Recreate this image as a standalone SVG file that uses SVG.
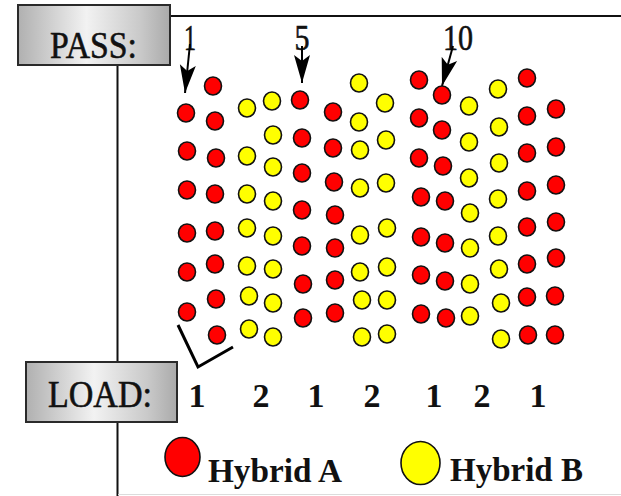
<svg xmlns="http://www.w3.org/2000/svg" xmlns:xlink="http://www.w3.org/1999/xlink" width="621" height="496" viewBox="0 0 621 496">
<style>
.lbl{font-family:"Liberation Serif","Times New Roman",serif;fill:#111}
.heavy{stroke:#111;stroke-width:0.6}
.box{fill:url(#metal);stroke:#2a2a2a;stroke-width:2}
.frame{stroke:#111;stroke-width:2;fill:none}
.ln{stroke:#000;stroke-width:2;fill:none}
.red{fill:#ff0000;stroke:#111;stroke-width:1.6}
.yel{fill:#ffff00;stroke:#111;stroke-width:1.6}
</style>
<defs>
<linearGradient id="metal" x1="0" y1="0" x2="1" y2="0">
<stop offset="0" stop-color="#b0b0b0"/>
<stop offset="0.45" stop-color="#f2f2f2"/>
<stop offset="0.8" stop-color="#cacaca"/>
<stop offset="1" stop-color="#aaaaaa"/>
</linearGradient>
<ellipse id="rd" class="red" cx="0" cy="0" rx="8.5" ry="9"/>
<ellipse id="yd" class="yel" cx="0" cy="0" rx="8.5" ry="9"/>
<marker id="ah" markerUnits="userSpaceOnUse" viewBox="0 -9 28 18" refX="28" refY="0" markerWidth="28" markerHeight="18" orient="auto">
<path d="M0,-8 L28,0 L0,8 L6,0 z" fill="#000"/>
</marker>
</defs>
<rect width="621" height="496" fill="#fff"/>
<g id="frame">
<line class="frame" x1="170" y1="16" x2="621" y2="16"/>
<line class="frame" x1="117.5" y1="65" x2="117.5" y2="496"/>
<line x1="118" y1="494.5" x2="621" y2="494.5" stroke="#dcdcdc" stroke-width="1"/>
</g>
<g id="pass-label">
<rect class="box" x="18" y="5" width="152" height="60"/>
<text class="lbl heavy" x="50" y="58" font-size="37" textLength="87" lengthAdjust="spacingAndGlyphs">PASS:</text>
</g>
<g id="load-label">
<rect class="box" x="26" y="362" width="151" height="60"/>
<text class="lbl heavy" x="48" y="407" font-size="37" textLength="104" lengthAdjust="spacingAndGlyphs">LOAD:</text>
</g>
<g id="pass-numbers" class="lbl heavy" font-size="35">
<text x="190" y="50" text-anchor="middle" textLength="12" lengthAdjust="spacingAndGlyphs">1</text>
<text x="302" y="50" text-anchor="middle" textLength="15" lengthAdjust="spacingAndGlyphs">5</text>
<text x="458" y="50" text-anchor="middle" textLength="30" lengthAdjust="spacingAndGlyphs">10</text>
</g>
<g id="connectors">
<line class="ln" x1="190" y1="44" x2="185" y2="93" marker-end="url(#ah)"/>
<line class="ln" x1="302" y1="46" x2="302" y2="83" marker-end="url(#ah)"/>
<line class="ln" x1="453" y1="46" x2="442" y2="86" marker-end="url(#ah)"/>
<polyline id="bracket" points="178,325 198,367 233,347" stroke="#000" stroke-width="3" fill="none"/>
</g>
<g id="col1">
<use href="#rd" x="186" y="113"/><use href="#rd" x="187" y="151"/><use href="#rd" x="187" y="190"/><use href="#rd" x="187" y="233"/><use href="#rd" x="187" y="272"/><use href="#rd" x="187" y="312"/>
</g>
<g id="col2">
<use href="#rd" x="213" y="86"/><use href="#rd" x="215" y="121"/><use href="#rd" x="216" y="158"/><use href="#rd" x="215" y="194"/><use href="#rd" x="215" y="231"/><use href="#rd" x="215" y="264"/><use href="#rd" x="216" y="299"/><use href="#rd" x="217" y="335"/>
</g>
<g id="col3">
<use href="#yd" x="247" y="108"/><use href="#yd" x="247" y="156"/><use href="#yd" x="247" y="194"/><use href="#yd" x="247" y="228"/><use href="#yd" x="247" y="266"/><use href="#yd" x="249" y="296"/><use href="#yd" x="249" y="329"/>
</g>
<g id="col4">
<use href="#yd" x="272" y="101"/><use href="#yd" x="273" y="135"/><use href="#yd" x="273" y="167"/><use href="#yd" x="273" y="201"/><use href="#yd" x="273" y="236"/><use href="#yd" x="273" y="269"/><use href="#yd" x="273" y="303"/><use href="#yd" x="273" y="337"/>
</g>
<g id="col5">
<use href="#rd" x="300" y="100"/><use href="#rd" x="302" y="138"/><use href="#rd" x="302" y="173"/><use href="#rd" x="302" y="210"/><use href="#rd" x="302" y="246"/><use href="#rd" x="303" y="284"/><use href="#rd" x="303" y="318"/>
</g>
<g id="col6">
<use href="#rd" x="333" y="112"/><use href="#rd" x="333" y="148"/><use href="#rd" x="334" y="182"/><use href="#rd" x="335" y="215"/><use href="#rd" x="335" y="248"/><use href="#rd" x="335" y="280"/><use href="#rd" x="335" y="313"/>
</g>
<g id="col7">
<use href="#yd" x="359" y="83"/><use href="#yd" x="359" y="122"/><use href="#yd" x="360" y="150"/><use href="#yd" x="360" y="188"/><use href="#yd" x="360" y="235"/><use href="#yd" x="360" y="272"/><use href="#yd" x="362" y="300"/><use href="#yd" x="362" y="337"/>
</g>
<g id="col8">
<use href="#yd" x="385" y="103"/><use href="#yd" x="386" y="140"/><use href="#yd" x="386" y="183"/><use href="#yd" x="387" y="228"/><use href="#yd" x="387" y="267"/><use href="#yd" x="387" y="300"/><use href="#yd" x="387" y="334"/>
</g>
<g id="col9">
<use href="#rd" x="419" y="80"/><use href="#rd" x="419" y="118"/><use href="#rd" x="419" y="158"/><use href="#rd" x="421" y="197"/><use href="#rd" x="421" y="237"/><use href="#rd" x="421" y="275"/><use href="#rd" x="421" y="314"/>
</g>
<g id="col10">
<use href="#rd" x="442" y="95"/><use href="#rd" x="442" y="130"/><use href="#rd" x="443" y="166"/><use href="#rd" x="445" y="201"/><use href="#rd" x="445" y="243"/><use href="#rd" x="445" y="281"/><use href="#rd" x="446" y="318"/>
</g>
<g id="col11">
<use href="#yd" x="469" y="106"/><use href="#yd" x="469" y="142"/><use href="#yd" x="469" y="178"/><use href="#yd" x="470" y="213"/><use href="#yd" x="470" y="248"/><use href="#yd" x="470" y="284"/><use href="#yd" x="470" y="316"/>
</g>
<g id="col12">
<use href="#yd" x="498" y="89"/><use href="#yd" x="499" y="127"/><use href="#yd" x="499" y="163"/><use href="#yd" x="498" y="199"/><use href="#yd" x="498" y="236"/><use href="#yd" x="499" y="269"/><use href="#yd" x="501" y="303"/><use href="#yd" x="501" y="339"/>
</g>
<g id="col13">
<use href="#rd" x="527" y="78"/><use href="#rd" x="527" y="116"/><use href="#rd" x="527" y="153"/><use href="#rd" x="527" y="191"/><use href="#rd" x="527" y="227"/><use href="#rd" x="527" y="264"/><use href="#rd" x="527" y="297"/><use href="#rd" x="528" y="335"/>
</g>
<g id="col14">
<use href="#rd" x="556" y="109"/><use href="#rd" x="556" y="147"/><use href="#rd" x="556" y="185"/><use href="#rd" x="556" y="222"/><use href="#rd" x="556" y="258"/><use href="#rd" x="555" y="296"/><use href="#rd" x="555" y="335"/>
</g>
<g id="load-numbers" class="lbl" font-size="34" font-weight="bold" text-anchor="middle">
<text x="197" y="407">1</text>
<text x="261" y="407">2</text>
<text x="316" y="407">1</text>
<text x="372" y="407">2</text>
<text x="434" y="407">1</text>
<text x="482" y="407">2</text>
<text x="538" y="407">1</text>
</g>
<g id="legend-a">
<ellipse class="red" cx="182.5" cy="457" rx="17.5" ry="19.5"/>
<text class="lbl" x="208" y="482" font-size="33" font-weight="bold" textLength="134" lengthAdjust="spacingAndGlyphs">Hybrid A</text>
</g>
<g id="legend-b">
<ellipse class="yel" cx="420.5" cy="463" rx="19.5" ry="21.5"/>
<text class="lbl" x="450" y="481" font-size="33" font-weight="bold" textLength="133" lengthAdjust="spacingAndGlyphs">Hybrid B</text>
</g>
</svg>
